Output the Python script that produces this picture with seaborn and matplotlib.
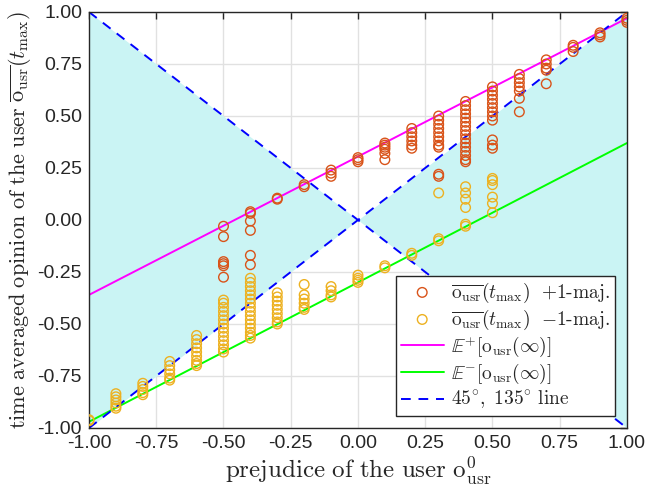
import numpy as np
import pandas as pd
import seaborn as sns
import matplotlib.pyplot as plt
from matplotlib.ticker import FormatStrFormatter

# prejudice levels and time averaged opinions
x_levels = [-1.0, -0.9, -0.8, -0.7, -0.6, -0.5, -0.4, -0.3, -0.2, -0.1, 0.0,
            0.1, 0.2, 0.3, 0.4, 0.5, 0.6, 0.7, 0.8, 0.9, 1.0]

plus_y = [
    [], [], [], [], [],
    [-0.03, -0.08, -0.20, -0.21, -0.22, -0.275],
    [0.04, 0.032, -0.005, -0.05, -0.17, -0.215],
    [0.105, 0.10],
    [0.17, 0.16],
    [0.24, 0.225, 0.21],
    [0.30, 0.29, 0.28],
    [0.37, 0.36, 0.35, 0.34, 0.32, 0.29],
    [0.44, 0.42, 0.40, 0.38, 0.36, 0.345],
    [0.50, 0.48, 0.46, 0.44, 0.42, 0.40, 0.38, 0.36, 0.35, 0.22, 0.21],
    [0.57, 0.55, 0.53, 0.51, 0.49, 0.47, 0.45, 0.43, 0.41, 0.39, 0.37,
     0.35, 0.33, 0.31, 0.29, 0.28],
    [0.64, 0.62, 0.60, 0.58, 0.56, 0.54, 0.52, 0.50, 0.48, 0.385, 0.36, 0.345],
    [0.70, 0.68, 0.66, 0.64, 0.62, 0.585, 0.52],
    [0.77, 0.75, 0.73, 0.72, 0.655],
    [0.84, 0.83, 0.81],
    [0.90, 0.89, 0.88],
    [0.97, 0.96, 0.95],
]

minus_y = [
    [-0.96, -0.965],
    [-0.835, -0.85, -0.865, -0.88, -0.895, -0.905],
    [-0.785, -0.80, -0.815, -0.83, -0.84],
    [-0.68, -0.70, -0.72, -0.74, -0.76, -0.77],
    [-0.555, -0.575, -0.595, -0.615, -0.635, -0.655, -0.675, -0.69, -0.70],
    [-0.385, -0.40, -0.42, -0.44, -0.46, -0.48, -0.50, -0.52, -0.54, -0.56,
     -0.58, -0.60, -0.62, -0.635],
    [-0.28, -0.30, -0.32, -0.34, -0.36, -0.38, -0.40, -0.42, -0.44, -0.46,
     -0.48, -0.50, -0.52, -0.54, -0.555, -0.568],
    [-0.35, -0.37, -0.39, -0.41, -0.43, -0.45, -0.47, -0.49, -0.50],
    [-0.31, -0.36, -0.38, -0.40, -0.42, -0.43],
    [-0.32, -0.34, -0.36, -0.37],
    [-0.265, -0.28, -0.29, -0.30],
    [-0.22, -0.23],
    [-0.16, -0.17],
    [0.13, -0.09, -0.10],
    [0.16, 0.13, 0.10, 0.06, -0.02, -0.03],
    [0.20, 0.19, 0.17, 0.11, 0.08, 0.035],
    [], [], [], [], [],
]

line_x = [-1.0, 1.0]
eplus_y = [-0.36, 0.97]
eminus_y = [-0.97, 0.37]
diag45_y = [-1.0, 1.0]
diag135_y = [1.0, -1.0]

tick_vals = [-1.0, -0.75, -0.5, -0.25, 0.0, 0.25, 0.5, 0.75, 1.0]


def to_long(ys):
    xs, vals = [], []
    for xv, col in zip(x_levels, ys):
        for v in col:
            xs.append(xv)
            vals.append(v)
    return pd.DataFrame({'x': xs, 'y': vals})


plus_df = to_long(plus_y)
minus_df = to_long(minus_y)

sns.set_style('white')
plt.rcParams['mathtext.fontset'] = 'cm'
plt.rcParams['font.family'] = ['Liberation Sans', 'DejaVu Sans']

fig = plt.figure(figsize=(6.45, 5.0), dpi=100)
ax = fig.add_axes([0.138, 0.144, 0.834, 0.832])

# cyan wedges between the 45 and 135 degree lines
fx = [-1.0, 0.0, 1.0]
ax.fill_between(fx, [-1.0, 0.0, -1.0], [1.0, 0.0, 1.0], color='#caf4f4',
                linewidth=0, zorder=1)

orange = '#D95319'
yellow = '#EDB120'
sns.scatterplot(data=plus_df, x='x', y='y', ax=ax, marker='o', s=48,
                facecolor='none', edgecolor=orange, linewidth=1.0, zorder=3,
                label=r'$\overline{\mathrm{o}_{\mathrm{usr}}}(t_{\max})\ \ {+}1\mathrm{\text{-}maj.}$')
sns.scatterplot(data=minus_df, x='x', y='y', ax=ax, marker='o', s=48,
                facecolor='none', edgecolor=yellow, linewidth=1.0, zorder=3,
                label=r'$\overline{\mathrm{o}_{\mathrm{usr}}}(t_{\max})\ \ {-}1\mathrm{\text{-}maj.}$')
sns.lineplot(x=line_x, y=eplus_y, ax=ax, color='#FF00FF', linewidth=1.4, zorder=2,
             label=r'$\mathbb{E}^{+}[\mathrm{o}_{\mathrm{usr}}(\infty)]$')
sns.lineplot(x=line_x, y=eminus_y, ax=ax, color='#00FF00', linewidth=1.4, zorder=2,
             label=r'$\mathbb{E}^{-}[\mathrm{o}_{\mathrm{usr}}(\infty)]$')
sns.lineplot(x=line_x, y=diag45_y, ax=ax, color='#0000FF', linewidth=1.4,
             zorder=2, label=r'$45^{\circ},\ 135^{\circ}\ \mathrm{line}$')
ax.lines[-1].set_dashes((5, 4))
sns.lineplot(x=line_x, y=diag135_y, ax=ax, color='#0000FF', linewidth=1.4,
             zorder=2)
ax.lines[-1].set_dashes((5, 4))

ax.set_xlim(-1, 1)
ax.set_ylim(-1, 1)
ax.set_xticks(tick_vals)
ax.set_yticks(tick_vals)
ax.xaxis.set_major_formatter(FormatStrFormatter('%.2f'))
ax.yaxis.set_major_formatter(FormatStrFormatter('%.2f'))
ax.tick_params(direction='in', length=5, width=1, colors='#262626',
               labelsize=14, top=True, right=True, pad=5)
ax.grid(True, color='#e1e1e1', linewidth=1)
ax.set_axisbelow(True)
for sp in ax.spines.values():
    sp.set_color('#262626')
    sp.set_linewidth(1)

ax.set_xlabel(r'$\mathrm{prejudice\ of\ the\ user\ o_{usr}^{0}}$', fontsize=18,
              labelpad=2)
ax.set_ylabel(r'$\mathrm{time\ averaged\ opinion\ of\ the\ user\ }'
              r'\overline{\mathrm{o}_{\mathrm{usr}}}(t_{\max})$', fontsize=16,
              labelpad=3)

leg = ax.legend(loc='lower right', fontsize=14, frameon=True, fancybox=False,
                edgecolor='#262626', framealpha=1, borderpad=0.25,
                handlelength=2.2, handletextpad=0.4, labelspacing=0.15,
                borderaxespad=0.6)
leg.get_frame().set_linewidth(1)

fig.savefig('out.png', dpi=100)
